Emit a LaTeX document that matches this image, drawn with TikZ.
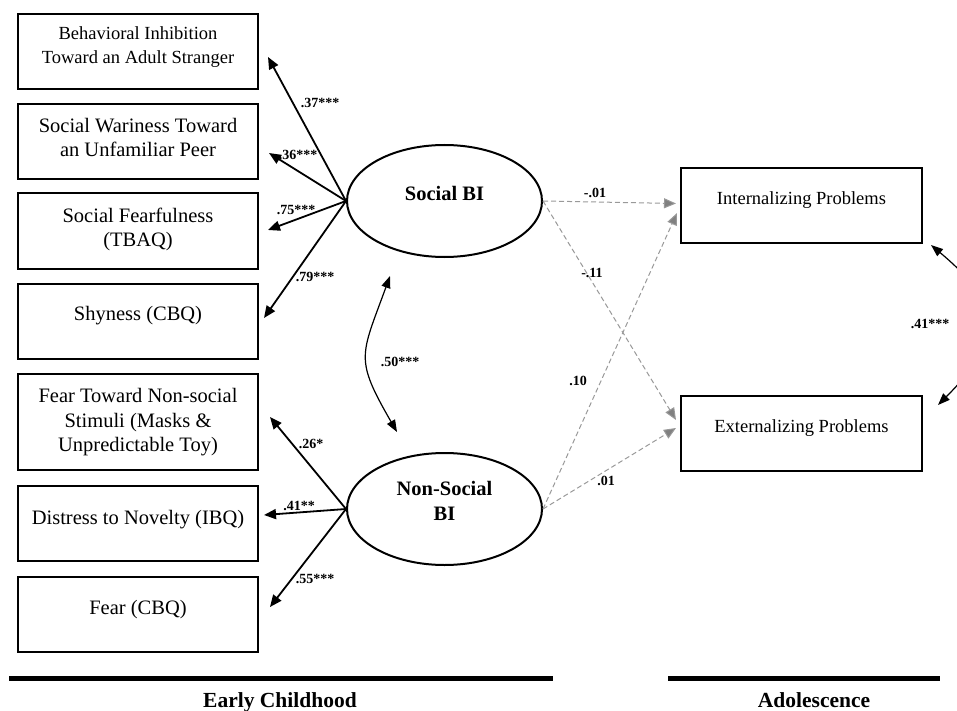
\documentclass[tikz,border=0pt]{standalone}
\usepackage{fontspec}
\setmainfont{Liberation Serif}
\usetikzlibrary{arrows.meta,shapes.geometric}

\tikzset{
  measure/.style={draw,rectangle,line width=2pt,minimum width=240pt,minimum height=75pt,
    align=center,font=\fontsize{20.5}{24.5}\selectfont,text depth=15pt},
  factor/.style={draw,ellipse,line width=2pt,minimum width=195pt,minimum height=112pt,
    align=center,font=\fontsize{20.5}{25}\selectfont\bfseries,text depth=16pt},
  coef/.style={font=\fontsize{14}{16}\selectfont\bfseries,inner sep=0pt},
  period/.style={font=\fontsize{21.5}{24}\selectfont\bfseries,inner sep=0pt,anchor=base},
  load/.style={line width=1.8pt,-{Triangle[length=12pt,width=10pt]}},
  regress/.style={draw=black!40,line width=1pt,dash pattern=on 5pt off 3pt,
    -{Triangle[length=12pt,width=10pt,fill=black!50]}},
  covar/.style={line width=1.2pt,{Triangle[length=12pt,width=9pt]}-{Triangle[length=12pt,width=9pt]}}
}

\begin{document}
\begin{tikzpicture}[x=1pt,y=-1pt,node distance=90pt]
                \useasboundingbox (0,0) rectangle (957,711);
                % early childhood indicators
                \node[measure,font=\fontsize{18.5}{24}\selectfont,text depth=14pt] (behav) at (138,52) {Behavioral Inhibition\\Toward an Adult Stranger};
                \node[measure,text depth=9pt] (wary) [below of=behav] {Social Wariness Toward\\an Unfamiliar Peer};
                \node[measure,text depth=7pt] (fearful) [below of=wary, yshift=1pt] {Social Fearfulness\\(TBAQ)};
                \node[measure,text depth=16pt] (shy) [below of=fearful] {Shyness (CBQ)};
                \node[measure,minimum height=96pt,text depth=4pt] (nonsoc) [below of=shy, yshift=-11pt] {Fear Toward Non-social\\Stimuli (Masks \&\\Unpredictable Toy)};
                \node[measure,text depth=13pt] (distress) [below of=nonsoc, yshift=-11.5pt] {Distress to Novelty (IBQ)};
                \node[measure] (fear) [below of=distress, yshift=-1pt] {Fear (CBQ)};

                % latent factors
                \node[factor] (social) at (444.5,201) {Social BI};
                \node[factor,text depth=17pt] (nonsocial) [below of=social, yshift=-218pt] {Non-Social\\BI};

                % adolescent outcomes
                \node[measure,minimum width=241pt,font=\fontsize{18.5}{24}\selectfont] (intern) at (801.5,205.5) {Internalizing Problems};
                \node[measure,minimum width=241pt,font=\fontsize{18.5}{24}\selectfont] (extern) [below of=intern, yshift=-138pt] {Externalizing Problems};

                \draw[load] (social.west) -- ([xshift=9pt,yshift=-5pt]behav.east);
                \draw[load] (social.west) -- ([xshift=10pt,yshift=-11pt]wary.east);
                \draw[load] (social.west) -- ([xshift=9pt,yshift=1pt]fearful.east);
                \draw[load] (social.west) -- ([xshift=5pt,yshift=3pt]shy.east);
                \draw[load] (nonsocial.west) -- ([xshift=11pt,yshift=5pt]nonsoc.east);
                \draw[load] (nonsocial.west) -- ([xshift=5pt,yshift=8.5pt]distress.east);
                \draw[load] (nonsocial.west) -- ([xshift=11pt,yshift=7.5pt]fear.east);

                \draw[regress] (social.east) -- ([xshift=-4pt,yshift=2pt]intern.west);
                \draw[regress] (social.east) -- ([xshift=-4pt,yshift=13.5pt]extern.west);
                \draw[regress] (nonsocial.east) -- ([xshift=-3pt,yshift=-7.5pt]intern.west);
                \draw[regress] (nonsocial.east) -- ([xshift=-4pt,yshift=5.5pt]extern.west);

                \draw[covar] ([shift={(-54.5pt,-18pt)}]social.south) to[out=250,in=120,looseness=1.4] ([shift={(-47.5pt,20pt)}]nonsocial.north);
                \draw[covar] ([shift={(8pt,-1pt)}]intern.south east) to[out=-40,in=45,looseness=1.5] ([shift={(15pt,-10pt)}]extern.north east);

                % coefficients
                \node[coef] (c37) at (320,103) {.37***};
                \node[coef] (c36) at (298,155) {.36***};
                \node[coef] (c75) at (296,210) {.75***};
                \node[coef] (c79) at (315,277) {.79***};
                \node[coef] (c26) at (311,444) {.26*};
                \node[coef] (c41) at (299,506) {.41**};
                \node[coef] (c55) at (315,579) {.55***};
                \node[coef] (c50) at (400,362) {.50***};
                \node[coef] (cm01) at (595,193) {-.01};
                \node[coef] (cm11) at (592,273) {-.11};
                \node[coef] (c10) at (578,381) {.10};
                \node[coef] (c01) at (606,481) {.01};
                \node[coef] (cr41) at (930,324) {.41***};

                % time line
                \draw[line width=5pt] (9,678.5) -- (553,678.5);
                \draw[line width=5pt] (668,678.5) -- (940,678.5);
                \node[period] (early) at (280,707) {Early Childhood};
                \node[period] (adol) at (814,707) {Adolescence};
\end{tikzpicture}
\end{document}
